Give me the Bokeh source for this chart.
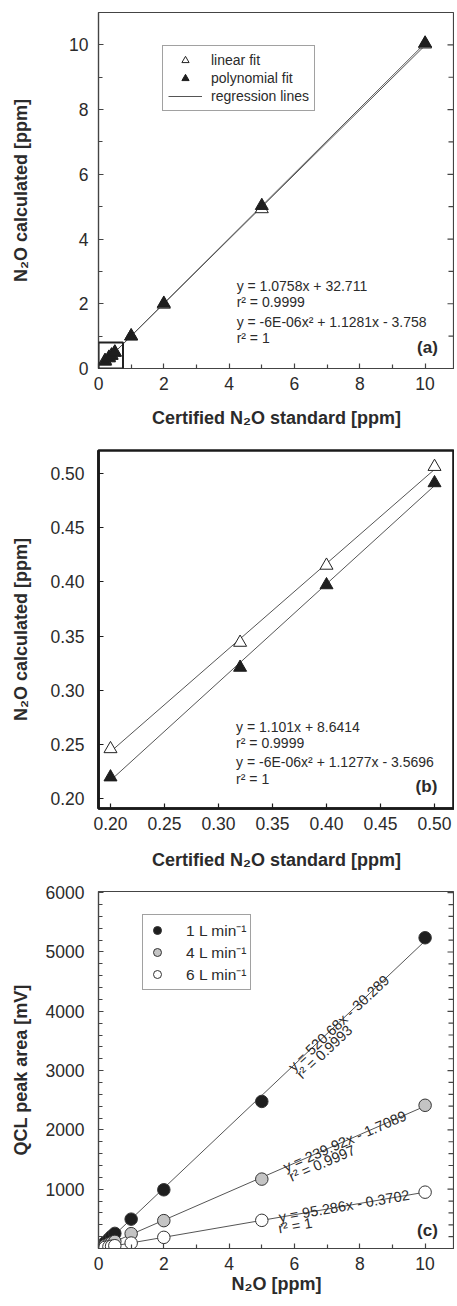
import numpy as np
from bokeh.plotting import figure
from bokeh.models import (Label, Legend, LegendItem, FixedTicker,
                          BoxAnnotation, NumeralTickFormatter, Range1d)
from bokeh.layouts import column
from bokeh.embed import file_html
from bokeh.resources import INLINE

FONT = "Liberation Sans"
TXT = "#2b2b2b"
LINE = "#444444"

# ---------------- data ----------------
std_ppm = [0.2, 0.32, 0.4, 0.5, 1, 2, 5, 10]
linear_calc = [0.246, 0.344, 0.415, 0.506, 1.0, 1.98, 4.93, 10.02]
poly_calc = [0.220, 0.321, 0.397, 0.491, 1.0, 2.01, 5.03, 10.05]
n_low = 4  # standards shown in panel (b)

flow_labels = ["1 L min\u207b\u00b9", "4 L min\u207b\u00b9", "6 L min\u207b\u00b9"]
flow_colors = ["#1e1e1e", "#c4c4c4", "#ffffff"]
peak_1L = [100, 160, 205, 255, 495, 990, 2480, 5240]
peak_4L = [48, 77, 96, 120, 250, 470, 1170, 2415]
peak_6L = [19, 30, 38, 47, 92, 188, 475, 950]
fit_slope_c = [520.68, 239.92, 95.286]
fit_icpt_c = [-30.289, -1.7089, -0.3702]
eq_c = [("y = 520.68x - 30.289", "r\u00b2 = 0.9993"),
        ("y = 239.92x - 1.7089", "r\u00b2 = 0.9997"),
        ("y = 95.286x - 0.3702", "r\u00b2 = 1")]

eq_a = ["y = 1.0758x + 32.711", "r\u00b2 = 0.9999",
        "y = -6E-06x\u00b2 + 1.1281x - 3.758", "r\u00b2 = 1"]
eq_b = ["y = 1.101x + 8.6414", "r\u00b2 = 0.9999",
        "y = -6E-06x\u00b2 + 1.1277x - 3.5696", "r\u00b2 = 1"]

ticks_10 = [0, 2, 4, 6, 8, 10]
minor_10 = [1, 3, 5, 7, 9]
ticks_b = [0.20, 0.25, 0.30, 0.35, 0.40, 0.45, 0.50]
ticks_c = [1000, 2000, 3000, 4000, 5000, 6000]
minor_c = [200, 400, 600, 800, 1200, 1400, 1600, 1800, 2200, 2400, 2600, 2800,
           3200, 3400, 3600, 3800, 4200, 4400, 4600, 4800, 5200, 5400, 5600, 5800]


def style(p, lw=1.2, lc=LINE, ylab_standoff=20, xlab_standoff=14, ytick_standoff=10):
    p.xgrid.visible = False
    p.ygrid.visible = False
    p.outline_line_color = lc
    p.outline_line_width = lw
    p.background_fill_color = "white"
    p.border_fill_color = "white"
    for ax in p.xaxis + p.yaxis:
        ax.axis_line_color = lc
        ax.axis_line_width = lw
        ax.major_tick_line_color = lc
        ax.minor_tick_line_color = lc
        ax.major_tick_line_width = 1.2
        ax.minor_tick_line_width = 1.2
        ax.major_tick_in = 5
        ax.major_tick_out = 0
        ax.minor_tick_in = 4
        ax.minor_tick_out = 0
        ax.major_label_text_font = FONT
        ax.major_label_text_font_size = "17.5px"
        ax.major_label_text_color = TXT
        ax.axis_label_text_font = FONT
        ax.axis_label_text_font_style = "bold"
        ax.axis_label_text_font_size = "18px"
        ax.axis_label_text_color = TXT
    p.xaxis.major_label_standoff = 8
    p.xaxis.axis_label_standoff = xlab_standoff
    p.yaxis.major_label_standoff = ytick_standoff
    p.yaxis.axis_label_standoff = ylab_standoff


def right_ticks(p, major, minor, lc=LINE):
    # short inward tick marks on the right frame edge
    xe = p.x_range.end
    p.scatter([xe] * len(major), major, marker="dash", size=14,
              line_color=lc, line_width=1.2)
    if minor:
        p.scatter([xe] * len(minor), minor, marker="dash", size=12,
                  line_color=lc, line_width=1.2)


def label(p, x, y, text, size="14px", style="normal", align="left",
          baseline="middle", angle=0.0):
    p.add_layout(Label(x=x, y=y, text=text, text_font=FONT, text_font_size=size,
                       text_font_style=style, text_color=TXT, text_align=align,
                       text_baseline=baseline, angle=angle))


# ---------------- panel (a) ----------------
pa = figure(width=454, height=440, x_range=Range1d(0, 10.9), y_range=Range1d(0, 11),
            output_backend="svg", toolbar_location=None,
            min_border_left=98, min_border_right=0, min_border_top=12, min_border_bottom=72)
pa.xaxis.ticker = FixedTicker(ticks=ticks_10, minor_ticks=minor_10)
pa.yaxis.ticker = FixedTicker(ticks=ticks_10, minor_ticks=minor_10)
pa.xaxis.axis_label = "Certified N\u2082O standard [ppm]"
pa.yaxis.axis_label = "N\u2082O calculated [ppm]"
style(pa, ylab_standoff=35, xlab_standoff=15, ytick_standoff=10)
right_ticks(pa, ticks_10, minor_10)

xs = np.array(std_ppm)
xl = [min(std_ppm), max(std_ppm)]
fl = np.polyfit(xs, linear_calc, 1)
fp = np.polyfit(xs, poly_calc, 1)
r_line = pa.line(xl, list(np.polyval(fl, xl)), line_color="#555555", line_width=1)
pa.line(xl, list(np.polyval(fp, xl)), line_color="#555555", line_width=1)
r_open = pa.scatter(std_ppm, linear_calc, marker="triangle", size=13,
                    fill_color="white", line_color="#222222", line_width=1)
r_fill = pa.scatter(std_ppm, poly_calc, marker="triangle", size=13,
                    fill_color="#1e1e1e", line_color="#1e1e1e", line_width=1)
pa.add_layout(BoxAnnotation(left=0, right=0.75, bottom=0, top=0.8, fill_alpha=0,
                            line_color="#222222", line_alpha=1, line_width=2))
leg_a = Legend(items=[LegendItem(label="linear fit", renderers=[r_open]),
                      LegendItem(label="polynomial fit", renderers=[r_fill]),
                      LegendItem(label="regression lines", renderers=[r_line])],
               location=(64, 257), margin=0, padding=5, spacing=0,
               glyph_width=34, glyph_height=18, label_height=16, label_standoff=9,
               label_text_font=FONT, label_text_font_size="14px", label_text_color=TXT,
               border_line_color=LINE, border_line_width=1.2, background_fill_alpha=1)
pa.add_layout(leg_a)
for t, yy in zip(eq_a, [2.54, 2.05, 1.45, 0.95]):
    label(pa, 4.23, yy, t)
label(pa, 10.39, 0.66, "(a)", size="17px", style="bold", align="right")

# ---------------- panel (b) ----------------
pb = figure(width=454, height=436, x_range=Range1d(0.1889, 0.5185),
            y_range=Range1d(0.1911, 0.5209),
            output_backend="svg", toolbar_location=None,
            min_border_left=97, min_border_right=0, min_border_top=10, min_border_bottom=68)
pb.xaxis.ticker = FixedTicker(ticks=ticks_b)
pb.yaxis.ticker = FixedTicker(ticks=ticks_b)
pb.xaxis.formatter = NumeralTickFormatter(format="0.00")
pb.yaxis.formatter = NumeralTickFormatter(format="0.00")
pb.xaxis.axis_label = "Certified N\u2082O standard [ppm]"
pb.yaxis.axis_label = "N\u2082O calculated [ppm]"
style(pb, lw=2.6, lc="#1a1a1a", ylab_standoff=16, xlab_standoff=17, ytick_standoff=14)
xsb = std_ppm[:n_low]
xlb = [min(xsb), max(xsb)]
for ser in (linear_calc[:n_low], poly_calc[:n_low]):
    f = np.polyfit(xsb, ser, 1)
    pb.line(xlb, list(np.polyval(f, xlb)), line_color="#555555", line_width=1)
pb.scatter(xsb, linear_calc[:n_low], marker="triangle", size=13,
           fill_color="white", line_color="#222222", line_width=1)
pb.scatter(xsb, poly_calc[:n_low], marker="triangle", size=13,
           fill_color="#1e1e1e", line_color="#1e1e1e", line_width=1)
for t, yy in zip(eq_b, [0.2666, 0.2516, 0.2337, 0.2184]):
    label(pb, 0.3163, yy, t)
label(pb, 0.5026, 0.2113, "(b)", size="17px", style="bold", align="right")

# ---------------- panel (c) ----------------
xr_c = (0, 10.9)
yr_c = (0, 6020)
pc = figure(width=454, height=426, x_range=Range1d(*xr_c), y_range=Range1d(*yr_c),
            output_backend="svg", toolbar_location=None,
            min_border_left=98, min_border_right=0, min_border_top=15, min_border_bottom=54)
pc.xaxis.ticker = FixedTicker(ticks=ticks_10, minor_ticks=minor_10)
pc.yaxis.ticker = FixedTicker(ticks=ticks_c, minor_ticks=minor_c)
pc.xaxis.axis_label = "N\u2082O [ppm]"
pc.yaxis.axis_label = "QCL peak area [mV]"
style(pc, ylab_standoff=12, xlab_standoff=1, ytick_standoff=14)
right_ticks(pc, ticks_c, minor_c)

fw, fh = 356.0, 357.0
px_x = fw / (xr_c[1] - xr_c[0])
px_y = fh / (yr_c[1] - yr_c[0])
renderers_c = []
for vals in [peak_1L, peak_4L, peak_6L]:
    f = np.polyfit(xs, vals, 1)
    pc.line(xl, list(np.polyval(f, xl)), line_color="#555555", line_width=1)
for vals, col in zip([peak_1L, peak_4L, peak_6L], flow_colors):
    r = pc.scatter(std_ppm, vals, marker="circle", size=12.5, fill_color=col,
                   line_color="#333333", line_width=1)
    renderers_c.append(r)

eq_x0 = [5.88, 5.68, 5.52]
r2_x0 = [5.90, 5.72, 5.45]
gap = 3.0  # px between the regression line and the r^2 text
for (t1, t2), m, b, x0, x1 in zip(eq_c, fit_slope_c, fit_icpt_c, eq_x0, r2_x0):
    ang = float(np.arctan(m * px_y / px_x))
    label(pc, x0, m * x0 + b, t1, size="14.5px", baseline="alphabetic", angle=ang)
    xa = x1 + gap * np.sin(ang) / px_x
    ya = m * x1 + b - gap * np.cos(ang) / px_y
    label(pc, float(xa), float(ya), t2, size="14.5px", baseline="top", angle=ang)
label(pc, 10.39, 297, "(c)", size="17px", style="bold", align="right")

leg_c = Legend(items=[LegendItem(label=lab, renderers=[r])
                      for lab, r in zip(flow_labels, renderers_c)],
               location=(44, 258), margin=0, padding=4, spacing=0,
               glyph_width=20, glyph_height=20, label_height=17, label_standoff=19,
               label_text_font=FONT, label_text_font_size="15.5px", label_text_color=TXT,
               border_line_color=LINE, border_line_width=1.2, background_fill_alpha=1)
pc.add_layout(leg_c)

layout = column(pa, pb, pc, spacing=0)
open("out.html", "w").write(file_html(layout, INLINE))
